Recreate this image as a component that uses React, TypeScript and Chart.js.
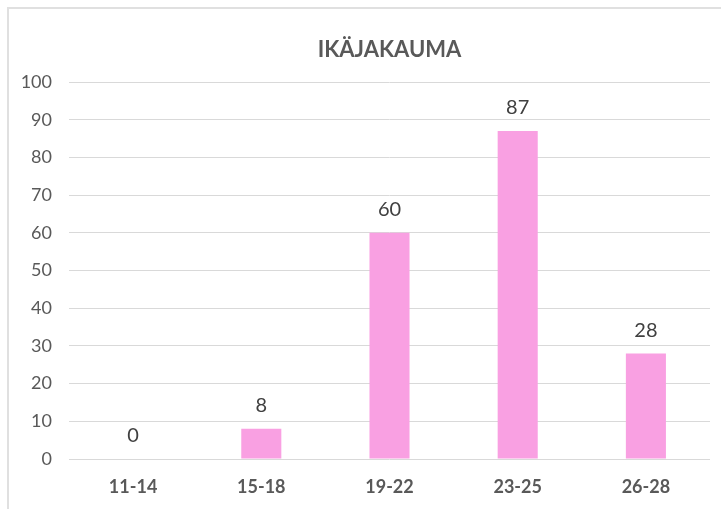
import React, { useEffect, useRef } from "react";
import { Chart, registerables } from "chart.js";

Chart.register(...registerables);

const categories = ["11-14", "15-18", "19-22", "23-25", "26-28"];
const values = [0, 8, 60, 87, 28];
const yTicks = [0, 10, 20, 30, 40, 50, 60, 70, 80, 90, 100];
const titleText = "IKÄJAKAUMA";

const FONT = "Lato, 'Open Sans', sans-serif";

const labelPlugin = {
  id: "valueLabels",
  afterDatasetsDraw(chart: any) {
    const { ctx } = chart;
    const meta = chart.getDatasetMeta(0);
    ctx.save();
    ctx.font = `20px ${FONT}`;
    ctx.fillStyle = "#404040";
    ctx.textAlign = "center";
    ctx.textBaseline = "middle";
    meta.data.forEach((bar: any, i: number) => {
      ctx.fillText(String(values[i]), bar.x, bar.y - 23);
    });
    ctx.restore();
  },
};

const titlePlugin = {
  id: "areaTitle",
  afterDraw(chart: any) {
    const { ctx, chartArea } = chart;
    ctx.save();
    ctx.font = `bold 22px ${FONT}`;
    ctx.fillStyle = "#595959";
    ctx.textAlign = "center";
    ctx.textBaseline = "middle";
    ctx.fillText(titleText, (chartArea.left + chartArea.right) / 2, 50);
    ctx.restore();
  },
};

export default function App() {
  const ref = useRef<HTMLCanvasElement>(null);
  useEffect(() => {
    document.body.style.margin = "0";
    const chart = new Chart(ref.current!, {
      type: "bar",
      data: {
        labels: categories,
        datasets: [
          {
            data: values,
            backgroundColor: "#F9A0E2",
            borderWidth: 0,
            barPercentage: 0.3125,
            categoryPercentage: 1,
          },
        ],
      },
      options: {
        responsive: false,
        animation: false,
        layout: { padding: { top: 82, right: 11, left: 0, bottom: 0 } },
        plugins: {
          legend: { display: false },
          title: { display: false },
          tooltip: { enabled: false },
        },
        scales: {
          x: {
            grid: { display: false, drawTicks: false },
            border: { display: false },
            ticks: {
              color: "#595959",
              font: { family: FONT, size: 18, weight: "bold" },
              padding: 17,
            },
            afterFit(scale: any) {
              scale.height = 50;
            },
          },
          y: {
            min: 0,
            max: 100,
            afterBuildTicks(scale: any) {
              scale.ticks = yTicks.map((v) => ({ value: v }));
            },
            grid: { color: "#d9d9d9", lineWidth: 1, drawTicks: false },
            border: { display: false },
            ticks: {
              color: "#595959",
              font: { family: FONT, size: 18 },
              padding: 17,
            },
            afterFit(scale: any) {
              scale.width = 69;
            },
          },
        },
      },
      plugins: [labelPlugin, titlePlugin],
    } as any);
    return () => chart.destroy();
  }, []);
  return (
    <div style={{ position: "relative", width: 721, height: 509 }}>
      <canvas ref={ref} width={721} height={509} style={{ display: "block" }} />
      <div
        style={{
          position: "absolute",
          left: 7,
          top: 7,
          right: 0,
          bottom: 0,
          borderLeft: "2px solid #e0e0e0",
          borderTop: "2px solid #e0e0e0",
          pointerEvents: "none",
        }}
      />
    </div>
  );
}
